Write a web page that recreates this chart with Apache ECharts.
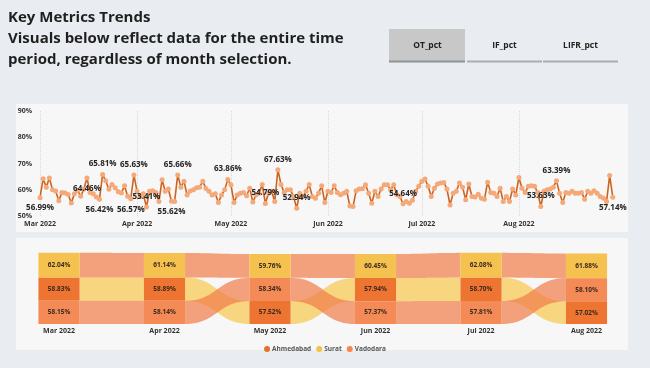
<!DOCTYPE html>
<html><head><meta charset="utf-8">
<script src="https://cdn.jsdelivr.net/npm/echarts@6/dist/echarts.min.js"></script>
<style>html,body{margin:0;padding:0;background:#E9ECF0;}#c{width:650px;height:368px;}</style>
</head><body><div id="c"></div>
<script>
// ---------- Line chart data (daily OT_pct) ----------
const monthKeys = ['2022-03','2022-04','2022-05','2022-06','2022-07','2022-08'];
const monthTicks = ['Mar 2022','Apr 2022','May 2022','Jun 2022','Jul 2022','Aug 2022'];
const marValues = [56.99,64.2,61.0,64.5,60.0,59.5,55.8,59.0,58.8,58.2,55.0,58.5,59.8,57.5,60.2,64.46,59.0,58.5,57.2,56.42,65.81,63.4,60.2,62.0,60.8,59.2,58.8,61.5,57.5,56.57,65.63];
const aprValues = [59.4,57.4,58.5,53.41,59.4,59.6,59.0,55.5,63.8,59.4,60.3,55.62,55.5,65.66,61.0,63.2,58.0,59.5,60.0,60.8,61.0,63.2,60.5,59.4,58.0,58.5,55.1,58.0,60.0,63.86];
const mayValues = [61.9,55.1,58.0,58.7,59.0,57.7,60.6,55.3,58.0,58.7,62.0,54.79,58.7,59.4,55.5,67.63,62.0,59.0,60.0,60.0,57.4,52.94,58.7,57.4,59.4,62.0,57.4,56.8,58.7,61.5,55.1];
const junValues = [59.4,59.0,61.5,59.0,58.1,58.7,59.4,53.8,53.6,59.6,60.3,60.4,61.9,58.7,54.9,59.4,57.4,60.3,61.9,61.9,60.0,61.9,58.1,57.4,54.64,55.5,54.9,56.0,59.4,61.3];
const julValues = [63.2,64.1,61.3,57.4,60.6,62.2,62.6,62.8,60.3,54.2,58.7,59.4,62.6,61.0,56.2,62.2,57.4,57.2,58.3,56.8,56.4,62.9,59.0,58.7,57.4,60.6,55.5,57.4,55.5,60.3,58.0];
const augValues = [64.7,60.6,59.0,61.3,61.5,61.3,59.0,53.63,59.4,60.0,60.3,61.0,63.39,58.7,55.1,59.0,58.7,59.4,58.7,58.7,59.0,56.4,59.4,58.7,59.6,58.7,57.4,56.8,55.5,65.4,57.14];
const labeledDates = ['2022-03-01','2022-03-16','2022-03-20','2022-03-21','2022-03-30','2022-03-31','2022-04-04','2022-04-12','2022-04-14','2022-04-30','2022-05-12','2022-05-16','2022-05-22','2022-06-25','2022-08-08','2022-08-13','2022-08-31'];
const yTicks = [50,60,70,80,90];

// ---------- Ribbon chart data ----------
const ribbonMonths = ['Mar 2022','Apr 2022','May 2022','Jun 2022','Jul 2022','Aug 2022'];
const cities = ['Ahmedabad','Surat','Vadodara'];
const ahmedabad = [58.83,58.89,57.52,57.94,58.70,57.02];
const surat = [62.04,61.14,59.76,60.45,62.08,61.88];
const vadodara = [58.15,58.14,58.34,57.37,57.81,58.10];

// ---------- build ----------
const FONT = '"Open Sans", "Noto Sans", sans-serif';
const labelBelow = new Set(['2022-03-01','2022-03-16','2022-03-20','2022-03-30','2022-04-12','2022-08-31']);
const monthArrays = [marValues,aprValues,mayValues,junValues,julValues,augValues];
const dates = [], values = [];
monthArrays.forEach((arr, mi) => arr.forEach((v, d) => {
  dates.push(monthKeys[mi] + '-' + String(d + 1).padStart(2, '0'));
  values.push(v);
}));
const lineData = values.map((v, i) => {
  const dt = dates[i];
  if (labeledDates.indexOf(dt) >= 0) {
    return {value: v, label: {show: true, position: labelBelow.has(dt) ? 'bottom' : 'top'}};
  }
  return v;
});

const cityValues = [ahmedabad, surat, vadodara];
const blockColors = ['#EE7431', '#F6C24F', '#F48A55'];
const ribbonColors = ['#F8C84D', '#F17B49', '#F17B49'];
const legendColors = ['#E8702A', '#F5C342', '#F4874B'];
const stackPos = cityValues.map(() => []);
ribbonMonths.forEach((_, m) => {
  const order = [0, 1, 2].sort((a, b) => cityValues[a][m] - cityValues[b][m]);
  let acc = 0;
  order.forEach(c => { stackPos[c][m] = [acc, acc + cityValues[c][m]]; acc += cityValues[c][m]; });
});
const BAR_FRAC = 0.39;

function ribbonRender(c) {
  return function (params, api) {
    const m = api.value(0);
    const bw = api.size([1, 0])[0] * BAR_FRAC;
    const a0 = api.coord([m, api.value(1)]), a1 = api.coord([m, api.value(2)]);
    const b0 = api.coord([m + 1, api.value(3)]), b1 = api.coord([m + 1, api.value(4)]);
    const x1 = a0[0] + bw / 2, x2 = b0[0] - bw / 2, xm = (x1 + x2) / 2;
    const N = 30, top = [], bot = [];
    for (let i = 0; i <= N; i++) {
      const t = i / N, u = 1 - t;
      const bx = u * u * u * x1 + 3 * u * u * t * xm + 3 * u * t * t * xm + t * t * t * x2;
      const w1 = u * u * u + 3 * u * u * t, w2 = 3 * u * t * t + t * t * t;
      top.push([bx, a1[1] * w1 + b1[1] * w2]);
      bot.push([bx, a0[1] * w1 + b0[1] * w2]);
    }
    const pts = top.concat(bot.reverse());
    return {type: 'polygon', shape: {points: pts}, style: {fill: ribbonColors[c], opacity: 0.7}};
  };
}
function blockRender(c) {
  return function (params, api) {
    const m = api.value(0);
    const p0 = api.coord([m, api.value(1)]);
    const p1 = api.coord([m, api.value(2)]);
    const bw = api.size([1, 0])[0] * BAR_FRAC;
    return {type: 'group', children: [
      {type: 'rect', shape: {x: p0[0] - bw / 2, y: p1[1], width: bw, height: p0[1] - p1[1]}, style: {fill: blockColors[c]}},
      {type: 'text', style: {text: api.value(3).toFixed(2) + '%', x: p0[0], y: (p0[1] + p1[1]) / 2, align: 'center', verticalAlign: 'middle', fontSize: 6.5, fontWeight: 'bold', fontFamily: FONT, fill: '#3A2A20'}}
    ]};
  };
}

const series = [{
  type: 'line', xAxisIndex: 0, yAxisIndex: 0, data: lineData,
  symbol: 'circle', symbolSize: 5, showSymbol: true, showAllSymbol: true,
  itemStyle: {color: '#F5A878'},
  lineStyle: {color: '#CB6420', width: 1.6},
  label: {show: false, fontSize: 8, fontWeight: 'bold', fontFamily: FONT, color: '#252423', distance: 4,
    formatter: p => p.value.toFixed(2) + '%'},
  labelLayout: {hideOverlap: false},
  animation: false, z: 3
}];
cities.forEach((name, c) => {
  const data = [];
  for (let m = 0; m < ribbonMonths.length - 1; m++) {
    data.push([m, stackPos[c][m][0], stackPos[c][m][1], stackPos[c][m + 1][0], stackPos[c][m + 1][1]]);
  }
  series.push({type: 'custom', name: name + ' ribbon', xAxisIndex: 1, yAxisIndex: 1, renderItem: ribbonRender(c),
    encode: {x: 0, y: [1, 2, 3, 4]}, data: data, z: 2, silent: true, animation: false});
});
cities.forEach((name, c) => {
  series.push({type: 'custom', name: name, xAxisIndex: 1, yAxisIndex: 1, renderItem: blockRender(c),
    itemStyle: {color: legendColors[c]},
    encode: {x: 0, y: [1, 2]},
    data: ribbonMonths.map((_, m) => [m, stackPos[c][m][0], stackPos[c][m][1], cityValues[c][m]]),
    z: 3, animation: false});
});

const isMonthStart = (i, v) => v.slice(8) === '01';
const TITLE = {fontSize: 15, fontWeight: 'bold', fontFamily: FONT, fill: '#1F1F1F', verticalAlign: 'middle'};
const option = {
  backgroundColor: '#E9ECF0',
  animation: false,
  graphic: [
    {type: 'rect', shape: {x: 16, y: 104, width: 612, height: 128}, style: {fill: '#F7F7F7'}, z: -10},
    {type: 'rect', shape: {x: 16, y: 238, width: 612, height: 112}, style: {fill: '#F7F7F7'}, z: -10},
    {type: 'text', x: 8, y: 18, style: Object.assign({text: 'Key Metrics Trends'}, TITLE)},
    {type: 'text', x: 8, y: 39, style: Object.assign({text: 'Visuals below reflect data for the entire time'}, TITLE)},
    {type: 'text', x: 8, y: 60, style: Object.assign({text: 'period, regardless of month selection.'}, TITLE)},
    {type: 'rect', shape: {x: 389, y: 29, width: 76, height: 32}, style: {fill: '#C8C8C8'}},
    {type: 'rect', shape: {x: 389, y: 60.5, width: 76, height: 2}, style: {fill: '#8E9396'}},
    {type: 'rect', shape: {x: 467, y: 60.5, width: 75, height: 2}, style: {fill: '#A9ADB1'}},
    {type: 'rect', shape: {x: 543, y: 60.5, width: 75, height: 2}, style: {fill: '#A9ADB1'}},
    {type: 'text', x: 427.5, y: 46, style: {text: 'OT_pct', fontSize: 8.5, fontWeight: 'bold', fontFamily: FONT, fill: '#222', align: 'center', verticalAlign: 'middle'}},
    {type: 'text', x: 504.5, y: 46, style: {text: 'IF_pct', fontSize: 8.5, fontWeight: 'bold', fontFamily: FONT, fill: '#222', align: 'center', verticalAlign: 'middle'}},
    {type: 'text', x: 580.5, y: 46, style: {text: 'LIFR_pct', fontSize: 8.5, fontWeight: 'bold', fontFamily: FONT, fill: '#222', align: 'center', verticalAlign: 'middle'}}
  ],
  grid: [
    {left: 40, right: 37.2, top: 111, bottom: 152},
    {left: 6.25, right: 10.75, top: 252.3, bottom: 44}
  ],
  xAxis: [
    {type: 'category', gridIndex: 0, data: dates, boundaryGap: false,
      axisLine: {show: false}, axisTick: {show: false},
      axisLabel: {interval: isMonthStart, formatter: v => monthTicks[monthKeys.indexOf(v.slice(0, 7))],
        fontSize: 7, fontWeight: 'bold', fontFamily: FONT, color: '#333', margin: 4},
      splitLine: {show: true, interval: isMonthStart, lineStyle: {type: 'dotted', color: '#D8D8D8', width: 1}}},
    {type: 'category', gridIndex: 1, data: ribbonMonths,
      axisLine: {show: false}, axisTick: {show: false},
      axisLabel: {fontSize: 7, fontWeight: 'bold', fontFamily: FONT, color: '#333', margin: 3}}
  ],
  yAxis: [
    {type: 'value', gridIndex: 0, min: yTicks[0], max: yTicks[yTicks.length - 1], interval: 10,
      axisLabel: {formatter: '{value}%', fontSize: 7, fontWeight: 'bold', fontFamily: FONT, color: '#333', margin: 8},
      splitLine: {show: false}, axisLine: {show: false}, axisTick: {show: false}},
    {type: 'value', gridIndex: 1, min: 0, max: 180, show: false, splitLine: {show: false}}
  ],
  legend: {data: cities, left: 'center', top: 340.5, icon: 'circle', itemWidth: 6, itemHeight: 6, itemGap: 5,
    textStyle: {fontSize: 6.5, fontWeight: 'bold', fontFamily: FONT, color: '#555', padding: [0, 0, 0, -3]}, selectedMode: false},
  series: series
};
const chart = echarts.init(document.getElementById('c'), null, {renderer: 'canvas'});
chart.setOption(option);
</script>
</body></html>
